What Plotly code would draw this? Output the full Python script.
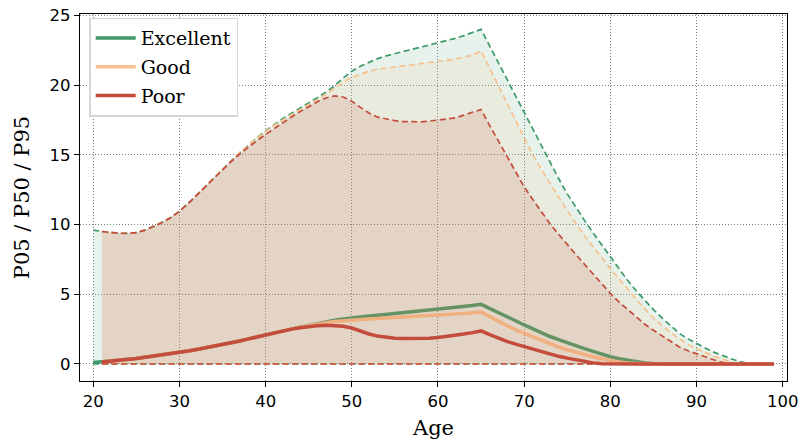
import plotly.graph_objects as go

# ---------------- data ----------------
ages_exc = list(range(20, 100))
ages_gp = list(range(21, 100))

exc_p95 = [9.6, 9.5, 9.42, 9.38, 9.37, 9.42, 9.6, 9.85, 10.15, 10.5,
           10.95, 11.5, 12.1, 12.72, 13.35, 13.98, 14.58, 15.15, 15.7, 16.22,
           16.72, 17.17, 17.6, 17.98, 18.34, 18.7, 19.1, 19.5, 19.95, 20.5,
           21.0, 21.35, 21.65, 21.9, 22.1, 22.25, 22.4, 22.55, 22.7, 22.85,
           23.0, 23.15, 23.35, 23.55, 23.75, 24.0, 22.8, 21.6, 20.4, 19.2,
           18.0, 16.8, 15.6, 14.45, 13.3, 12.2, 11.2, 10.3, 9.4, 8.55,
           7.75, 6.85, 6.0, 5.25, 4.55, 3.9, 3.3, 2.75, 2.2, 1.8,
           1.45, 1.15, 0.85, 0.6, 0.38, 0.18, 0.05, 0.0, 0.0, 0.0]

good_p95 = [9.5, 9.42, 9.38, 9.37, 9.42, 9.6, 9.85, 10.15, 10.5,
            10.95, 11.5, 12.1, 12.72, 13.35, 13.98, 14.58, 15.15, 15.7, 16.2,
            16.68, 17.12, 17.52, 17.9, 18.25, 18.58, 18.95, 19.35, 19.8, 20.2,
            20.55, 20.8, 21.0, 21.15, 21.25, 21.3, 21.38, 21.45, 21.52, 21.6,
            21.7, 21.78, 21.88, 22.0, 22.15, 22.45, 21.2, 19.95, 18.7, 17.45,
            16.2, 15.0, 13.95, 12.95, 12.0, 11.0, 10.1, 9.2, 8.4, 7.6,
            6.85, 6.1, 5.35, 4.65, 3.95, 3.3, 2.75, 2.25, 1.8, 1.4,
            1.1, 0.8, 0.55, 0.35, 0.15, 0.03, 0.0, 0.0, 0.0, 0.0]

poor_p95 = [9.5, 9.42, 9.38, 9.37, 9.42, 9.6, 9.85, 10.15, 10.5,
            10.95, 11.5, 12.1, 12.7, 13.32, 13.94, 14.52, 15.06, 15.56, 16.02,
            16.46, 16.9, 17.32, 17.72, 18.1, 18.45, 18.8, 19.08, 19.23, 19.15,
            18.85, 18.4, 18.0, 17.7, 17.55, 17.45, 17.38, 17.35, 17.37, 17.42,
            17.5, 17.57, 17.65, 17.85, 18.05, 18.25, 17.1, 16.0, 14.9, 13.8,
            12.7, 11.8, 10.9, 10.05, 9.3, 8.55, 7.85, 7.15, 6.45, 5.75,
            5.06, 4.45, 3.9, 3.35, 2.85, 2.42, 2.0, 1.6, 1.22, 0.95,
            0.72, 0.5, 0.3, 0.12, 0.03, 0.0, 0.0, 0.0, 0.0, 0.0]

exc_p50 = [0.1, 0.15, 0.2, 0.26, 0.33, 0.4, 0.48, 0.56, 0.64, 0.73,
           0.82, 0.93, 1.04, 1.15, 1.27, 1.39, 1.52, 1.65, 1.8, 1.95,
           2.1, 2.23, 2.36, 2.5, 2.63, 2.77, 2.9, 3.02, 3.13, 3.23,
           3.32, 3.38, 3.44, 3.5, 3.56, 3.62, 3.67, 3.73, 3.79, 3.85,
           3.9, 3.97, 4.04, 4.12, 4.2, 4.28, 4.0, 3.7, 3.4, 3.1,
           2.8, 2.5, 2.22, 1.97, 1.75, 1.52, 1.3, 1.1, 0.9, 0.7,
           0.52, 0.38, 0.26, 0.16, 0.08, 0.03, 0.0, 0.0, 0.0, 0.0,
           0.0, 0.0, 0.0, 0.0, 0.0, 0.0, 0.0, 0.0, 0.0, 0.0]

good_p50 = [0.15, 0.2, 0.26, 0.33, 0.4, 0.48, 0.56, 0.64, 0.73,
            0.82, 0.93, 1.04, 1.15, 1.27, 1.39, 1.52, 1.65, 1.8, 1.95,
            2.1, 2.23, 2.36, 2.5, 2.63, 2.75, 2.86, 2.96, 3.04, 3.1,
            3.15, 3.19, 3.23, 3.26, 3.29, 3.32, 3.35, 3.39, 3.42, 3.46,
            3.5, 3.54, 3.58, 3.62, 3.67, 3.72, 3.4, 3.05, 2.75, 2.45,
            2.2, 1.95, 1.7, 1.45, 1.22, 1.02, 0.84, 0.67, 0.52, 0.38,
            0.25, 0.15, 0.07, 0.02, 0.0, 0.0, 0.0, 0.0, 0.0, 0.0,
            0.0, 0.0, 0.0, 0.0, 0.0, 0.0, 0.0, 0.0, 0.0, 0.0]

poor_p50 = [0.15, 0.2, 0.26, 0.33, 0.4, 0.48, 0.56, 0.64, 0.73,
            0.82, 0.93, 1.04, 1.15, 1.27, 1.39, 1.52, 1.65, 1.8, 1.95,
            2.1, 2.23, 2.36, 2.5, 2.6, 2.68, 2.74, 2.77, 2.76, 2.7,
            2.58, 2.35, 2.15, 2.0, 1.9, 1.85, 1.82, 1.81, 1.82, 1.85,
            1.9, 1.97, 2.05, 2.15, 2.25, 2.37, 2.1, 1.85, 1.62, 1.42,
            1.25, 1.05, 0.86, 0.7, 0.55, 0.42, 0.3, 0.18, 0.08, 0.02,
            0.0, 0.0, 0.0, 0.0, 0.0, 0.0, 0.0, 0.0, 0.0, 0.0,
            0.0, 0.0, 0.0, 0.0, 0.0, 0.0, 0.0, 0.0, 0.0, 0.0]

exc_p05 = [0.0] * 43 + [0.02, 0.04, 0.05, 0.03, 0.01] + [0.0] * 32
good_p05 = [0.0] * 79
poor_p05 = [0.0] * 79

series_names = ["Excellent", "Good", "Poor"]
series_colors = ["#3d9a68", "#f7c08c", "#c44c3c"]
series_fills = ["rgba(61,154,104,0.13)", "rgba(247,192,140,0.13)", "rgba(196,76,60,0.14)"]

x_ticks = [20, 30, 40, 50, 60, 70, 80, 90, 100]
y_ticks = [0, 5, 10, 15, 20, 25]

# ---------------- figure ----------------
fig = go.Figure()
groups = [
    (ages_exc, exc_p05, exc_p50, exc_p95),
    (ages_gp, good_p05, good_p50, good_p95),
    (ages_gp, poor_p05, poor_p50, poor_p95),
]
for name, col, fillc, (xs, p05, p50, p95) in zip(series_names, series_colors, series_fills, groups):
    assert len(xs) == len(p05) == len(p50) == len(p95)
    fig.add_trace(go.Scatter(x=xs, y=p05, mode="lines", legendgroup=name, showlegend=False,
                             line=dict(color=col, width=1.7, dash="6px,3.5px"), hoverinfo="skip"))
    fig.add_trace(go.Scatter(x=xs, y=p95, mode="lines", legendgroup=name, showlegend=False,
                             fill="tonexty", fillcolor=fillc,
                             line=dict(color=col, width=1.7, dash="6px,3.5px"), hoverinfo="skip"))
    fig.add_trace(go.Scatter(x=xs, y=p50, mode="lines", name=name, legendgroup=name,
                             line=dict(color=col, width=3.5)))

axis_common = dict(
    showline=True, linecolor="black", linewidth=1.3, mirror=True,
    ticks="outside", ticklen=5, tickwidth=1.2, tickcolor="black",
    showgrid=True, gridcolor="rgba(80,80,80,0.75)", gridwidth=1, griddash="1px,2px",
    zeroline=False, automargin=False, ticklabeloverflow="allow",
    tickfont=dict(family="DejaVu Sans", size=16.5, color="black"),
)
fig.update_xaxes(range=[18.46, 100.5], tickvals=x_ticks,
                 title=dict(text="Age", font=dict(family="DejaVu Serif", size=21, color="black"), standoff=10),
                 **axis_common)
fig.update_yaxes(range=[-1.22, 25.1], tickvals=y_ticks,
                 title=dict(text="P05 / P50 / P95", font=dict(family="DejaVu Serif", size=21, color="black"), standoff=14),
                 **axis_common)

fig.update_layout(
    width=804, height=447,
    margin=dict(l=80, r=17, t=14, b=66),
    plot_bgcolor="white", paper_bgcolor="white",
    legend=dict(x=0.013, y=0.99, xanchor="left", yanchor="top",
                bgcolor="white", bordercolor="#d6d6d6", borderwidth=1.5,
                font=dict(family="DejaVu Serif", size=19, color="black"),
                tracegroupgap=1, itemwidth=40),
    showlegend=True,
)

# remove the browser's default body margin so the figure fills the window exactly
fig.write_html("out.html",
               config={"displayModeBar": False},
               post_script="document.body.style.margin='0';document.body.style.overflow='hidden';")
